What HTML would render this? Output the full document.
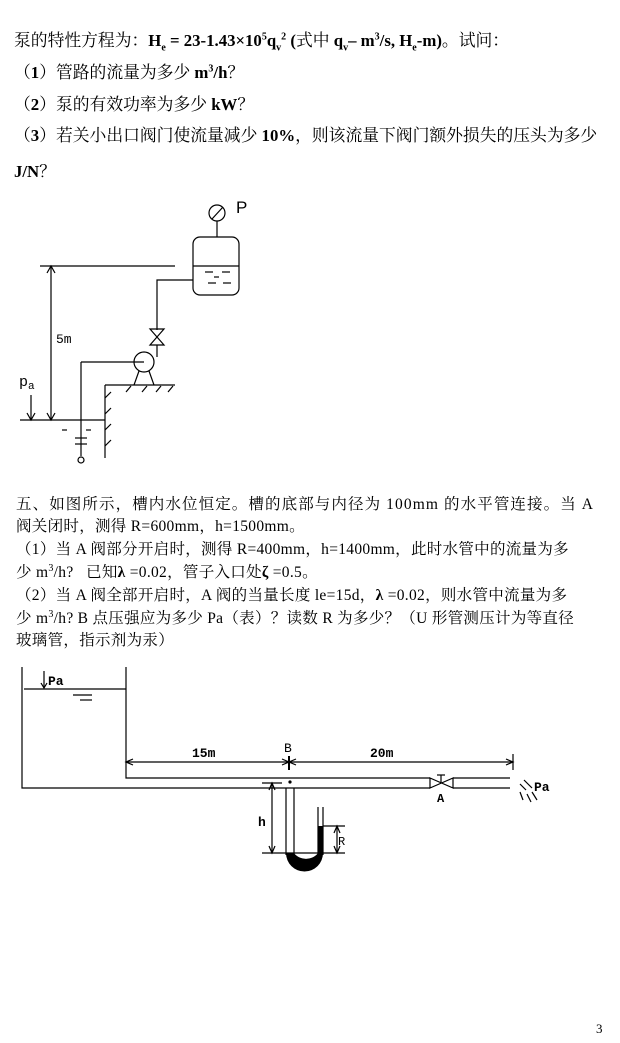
<!DOCTYPE html>
<html><head><meta charset="utf-8"><style>
body{margin:0;background:#fff;}
#p{position:relative;width:620px;height:1043px;overflow:hidden;background:#fff;}
.t{position:absolute;white-space:nowrap;font-family:"Liberation Serif","Noto Serif CJK SC",serif;font-size:16.8px;color:#000;line-height:18px;}
.s{position:absolute;white-space:nowrap;font-family:"Liberation Serif","Noto Serif CJK SC",serif;font-size:15.5px;color:#000;line-height:17px;letter-spacing:0.3px;}
b{font-weight:bold;}
sub,sup{font-size:10px;line-height:0;}
</style></head><body><div id="p">
<div class="t" style="left:14px;top:32px">泵的特性方程为：<b>H<sub>e</sub> = 23-1.43×10<sup>5</sup>q<sub>v</sub><sup>2</sup> (</b>式中 <b>q<sub>v</sub>– m<sup>3</sup>/s, H<sub>e</sub>-m)</b>。试问：</div>
<div class="t" style="left:14px;top:64px">（<b>1</b>）管路的流量为多少 <b>m<sup>3</sup>/h</b>？</div>
<div class="t" style="left:14px;top:96px">（<b>2</b>）泵的有效功率为多少 <b>kW</b>？</div>
<div class="t" style="left:14px;top:127px">（<b>3</b>）若关小出口阀门使流量减少 <b>10%</b>，则该流量下阀门额外损失的压头为多少</div>
<div class="t" style="left:14px;top:163px"><b>J/N</b>？</div>

<div class="s" style="left:16px;top:496px;letter-spacing:1.1px">五、如图所示，槽内水位恒定。槽的底部与内径为 100mm 的水平管连接。当 A</div>
<div class="s" style="left:16px;top:518px">阀关闭时，测得 R=600mm，h=1500mm。</div>
<div class="s" style="left:16px;top:541px">（1）当 A 阀部分开启时，测得 R=400mm，h=1400mm，此时水管中的流量为多</div>
<div class="s" style="left:16px;top:564px">少 m<sup>3</sup>/h?&nbsp;&nbsp; 已知<b>λ</b> =0.02，管子入口处<b>ζ</b> =0.5。</div>
<div class="s" style="left:16px;top:587px">（2）当 A 阀全部开启时，A 阀的当量长度 le=15d，<b>λ</b> =0.02，则水管中流量为多</div>
<div class="s" style="left:16px;top:610px">少 m<sup>3</sup>/h? B 点压强应为多少 Pa（表）？读数 R 为多少？（U 形管测压计为等直径</div>
<div class="s" style="left:16px;top:632px">玻璃管，指示剂为汞）</div>

<div class="t" style="left:596px;top:1020px;font-size:13px">3</div>

<svg width="620" height="1043" style="position:absolute;left:0;top:0" font-family="Liberation Sans,sans-serif">
<g stroke="#000" stroke-width="1.2" fill="none">
<line x1="40" y1="266" x2="175" y2="266"/>
<rect x="193" y="237" width="46" height="58" rx="7"/>
<line x1="193" y1="266" x2="239" y2="266"/>
<line x1="205" y1="272" x2="213" y2="272"/><line x1="222" y1="272" x2="230" y2="272"/>
<line x1="214" y1="277" x2="219" y2="277"/>
<line x1="208" y1="283" x2="216" y2="283"/><line x1="223" y1="283" x2="231" y2="283"/>
<line x1="217" y1="237" x2="217" y2="221"/>
<circle cx="217" cy="213" r="8"/>
<line x1="212" y1="219" x2="223" y2="207"/>
<polyline points="193,280 157,280 157,330"/>
<path d="M150,329 L164,329 L150,345 L164,345 Z"/>
<line x1="157" y1="345" x2="157" y2="357"/>
<circle cx="144" cy="362" r="10"/>
<line x1="144" y1="362" x2="81" y2="362"/>
<line x1="81" y1="362" x2="81" y2="456"/>
<line x1="134" y1="385" x2="139" y2="371"/><line x1="154" y1="385" x2="149" y2="371"/>
<line x1="105" y1="385" x2="175" y2="385"/>
<line x1="105" y1="385" x2="105" y2="458"/>
<line x1="126" y1="392" x2="131" y2="386"/><line x1="142" y1="392" x2="147" y2="386"/><line x1="156" y1="392" x2="161" y2="386"/><line x1="168" y1="392" x2="173" y2="386"/>
<line x1="105" y1="398" x2="111" y2="392"/><line x1="105" y1="414" x2="111" y2="408"/><line x1="105" y1="430" x2="111" y2="424"/><line x1="105" y1="446" x2="111" y2="440"/>
<line x1="20" y1="420" x2="105" y2="420"/>
<line x1="62" y1="430" x2="67" y2="430"/><line x1="86" y1="430" x2="91" y2="430"/>
<line x1="75" y1="438" x2="87" y2="438"/><line x1="75" y1="444" x2="87" y2="444"/>
<circle cx="81" cy="460" r="3"/>
<line x1="51" y1="266" x2="51" y2="420"/>
<path d="M47,273 L51,266 L55,273 M47,413 L51,420 L55,413"/>
<line x1="31" y1="395" x2="31" y2="420"/>
<path d="M27,413 L31,420 L35,413"/>
<polyline points="22,667 22,788 430,788"/>
<polyline points="126,667 126,778 430,778"/>
<line x1="24" y1="689" x2="126" y2="689"/>
<line x1="73" y1="695" x2="92" y2="695"/><line x1="80" y1="700" x2="92" y2="700"/>
<line x1="44" y1="671" x2="44" y2="688"/><path d="M41,683 L44,688 L47,683"/>
<path d="M430,778 L430,788 L453,778 L453,788 Z"/>
<line x1="441" y1="775" x2="441" y2="783"/><line x1="437" y1="775" x2="445" y2="775"/>
<line x1="453" y1="778" x2="510" y2="778"/><line x1="453" y1="788" x2="510" y2="788"/>
<line x1="126" y1="762" x2="513" y2="762"/>
<path d="M133,759 L126,762 L133,765 M282,759 L289,762 L282,765 M296,759 L289,762 L296,765 M506,759 L513,762 L506,765"/>
<line x1="289" y1="756" x2="289" y2="770" stroke-width="2"/>
<line x1="513" y1="754" x2="513" y2="770"/>
<line x1="520" y1="784" x2="526" y2="790"/><line x1="524" y1="780" x2="532" y2="788"/><line x1="520" y1="792" x2="523" y2="800"/><line x1="527" y1="794" x2="531" y2="802"/><line x1="532" y1="792" x2="537" y2="800"/>
<line x1="286" y1="788" x2="286" y2="855"/><line x1="294" y1="788" x2="294" y2="855"/>
<line x1="318" y1="807" x2="318" y2="855"/><line x1="323" y1="807" x2="323" y2="855"/>
<line x1="262" y1="783" x2="282" y2="783"/>
<line x1="272" y1="783" x2="272" y2="853"/>
<path d="M269,790 L272,783 L275,790 M269,846 L272,853 L275,846"/>
<line x1="262" y1="853" x2="345" y2="853"/>
<line x1="323" y1="826" x2="345" y2="826"/>
<line x1="337" y1="826" x2="337" y2="853"/>
<path d="M334,833 L337,826 L340,833 M334,846 L337,853 L340,846"/>
</g>
<circle cx="290" cy="782" r="1.6" fill="#000"/>
<path d="M286,853 A18,18 0 0 0 323,853 L323,826 L318,826 L318,853 A14,12 0 0 1 294,853 Z" fill="#000"/>
<text x="236" y="213" font-size="17" font-family="Liberation Sans">P</text>
<text x="56" y="343" font-size="13" font-family="Liberation Mono">5m</text>
<text x="19" y="386" font-size="15" font-family="Liberation Mono">p</text><text x="28" y="389" font-size="11" font-family="Liberation Mono">a</text>
<text x="48" y="685" font-size="13" font-weight="bold" font-family="Liberation Mono">Pa</text>
<text x="192" y="757" font-size="13" font-weight="bold" font-family="Liberation Mono">15m</text>
<text x="370" y="757" font-size="13" font-weight="bold" font-family="Liberation Mono">20m</text>
<text x="284" y="752" font-size="13" font-family="Liberation Mono">B</text>
<text x="437" y="802" font-size="12" font-weight="bold" font-family="Liberation Mono">A</text>
<text x="534" y="791" font-size="13" font-weight="bold" font-family="Liberation Mono">Pa</text>
<text x="258" y="826" font-size="13" font-weight="bold" font-family="Liberation Mono">h</text>
<text x="338" y="845" font-size="12" font-family="Liberation Mono">R</text>
</svg>
</div></body></html>
